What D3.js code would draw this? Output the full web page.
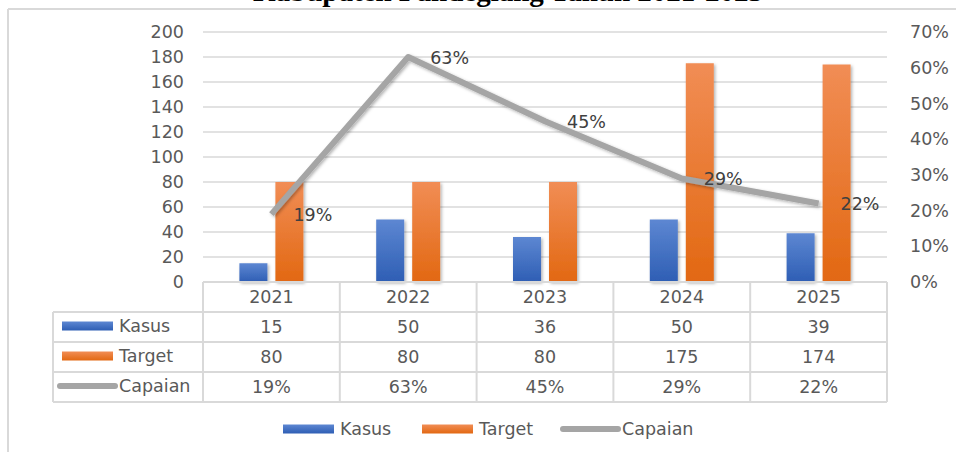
<!DOCTYPE html>
<html>
<head>
<meta charset="utf-8">
<script src="https://cdn.jsdelivr.net/npm/d3@7"></script>
<style>
  body { margin: 0; background: #fff; }
  svg { display: block; }
  text { font-family: "DejaVu Sans", sans-serif; }
</style>
</head>
<body>
<div id="chart"></div>
<script>
// values
const years = ['2021', '2022', '2023', '2024', '2025'];
const kasus = [15, 50, 36, 50, 39];
const target = [80, 80, 80, 175, 174];
const capaian = [0.19, 0.63, 0.45, 0.29, 0.22];
const leftTicks = [0, 20, 40, 60, 80, 100, 120, 140, 160, 180, 200];
const rightTicks = [0, 0.1, 0.2, 0.3, 0.4, 0.5, 0.6, 0.7];
const seriesNames = ['Kasus', 'Target', 'Capaian'];

const width = 956, height = 452;
const fs = 17.5;
const svg = d3.select('#chart').append('svg').attr('width', width).attr('height', height);

const defs = svg.append('defs');
const grad = (id, top, bottom) => {
  const g = defs.append('linearGradient').attr('id', id).attr('x1', 0).attr('y1', 0).attr('x2', 0).attr('y2', 1);
  g.append('stop').attr('offset', '0%').attr('stop-color', top);
  g.append('stop').attr('offset', '100%').attr('stop-color', bottom);
};
grad('gBlue', '#5d87d2', '#2e5eb4');
grad('gOrange', '#f18d55', '#e26812');
const sh = defs.append('filter').attr('id', 'shadow').attr('x', '-20%').attr('y', '-20%').attr('width', '140%').attr('height', '140%');
sh.append('feDropShadow').attr('dx', 1.5).attr('dy', 1.5).attr('stdDeviation', 1.5).attr('flood-color', '#000').attr('flood-opacity', 0.3);

const colors = { Kasus: 'url(#gBlue)', Target: 'url(#gOrange)' };
const textCol = '#595959', gridCol = '#d9d9d9';

// outer chart border (top and left visible)
svg.append('line').attr('x1', 8).attr('x2', width).attr('y1', 9).attr('y2', 9).attr('stroke', gridCol).attr('stroke-width', 2);
svg.append('line').attr('x1', 8).attr('x2', 8).attr('y1', 9).attr('y2', height).attr('stroke', gridCol).attr('stroke-width', 2);

// title, mostly clipped off the top like in the source
svg.append('text').attr('x', 508).attr('y', 1).attr('text-anchor', 'middle')
  .style('font-family', '"Liberation Serif", serif').attr('font-weight', 'bold').attr('font-size', 29)
  .attr('fill', '#000').text('Kabupaten Pandeglang Tahun 2021-2025');

const x = d3.scaleBand().domain(years).range([203, 887]);
const xs = d3.scaleBand().domain(['Kasus', 'Target']).range([0, 64]).paddingInner(0.222);
const y = d3.scaleLinear().domain([0, 200]).range([282, 32]);
const y2 = d3.scaleLinear().domain([0, 0.7]).range([282, 32]);

// gridlines
svg.append('g').selectAll('line').data(leftTicks.slice(1)).join('line')
  .attr('x1', 203).attr('x2', 887).attr('y1', d => y(d)).attr('y2', d => y(d))
  .attr('stroke', gridCol).attr('stroke-width', 1.5);

// left axis
const yAxis = svg.append('g').attr('transform', 'translate(184,0)')
  .call(d3.axisLeft(y).tickValues(leftTicks).tickSize(0).tickPadding(0));
yAxis.select('.domain').remove();
yAxis.selectAll('text').attr('font-size', fs).attr('fill', textCol).style('font-family', '"DejaVu Sans", sans-serif');

// right axis
const y2Axis = svg.append('g').attr('transform', 'translate(910,0)')
  .call(d3.axisRight(y2).tickValues(rightTicks).tickFormat(d3.format('.0%')).tickSize(0).tickPadding(0));
y2Axis.select('.domain').remove();
y2Axis.selectAll('text').attr('font-size', fs).attr('fill', textCol).style('font-family', '"DejaVu Sans", sans-serif');

// bars
const rows = years.map((yr, i) => ({ year: yr, Kasus: kasus[i], Target: target[i] }));
svg.append('g').selectAll('g').data(rows).join('g')
  .attr('transform', d => `translate(${x(d.year) + x.bandwidth() / 2 - 32},0)`)
  .selectAll('rect').data(d => ['Kasus', 'Target'].map(k => ({ key: k, value: d[k] }))).join('rect')
  .attr('x', d => xs(d.key)).attr('width', xs.bandwidth())
  .attr('y', d => y(d.value)).attr('height', d => y(0) - y(d.value))
  .attr('fill', d => colors[d.key]).attr('filter', 'url(#shadow)');

// capaian line
const pts = years.map((yr, i) => ({ year: yr, v: capaian[i] }));
const line = d3.line().x(d => x(d.year) + x.bandwidth() / 2).y(d => y2(d.v));
svg.append('path').datum(pts).attr('d', line).attr('fill', 'none')
  .attr('stroke', '#a5a5a5').attr('stroke-width', 6).attr('stroke-linejoin', 'round')
  .attr('filter', 'url(#shadow)');
svg.append('g').selectAll('text').data(pts).join('text')
  .attr('x', d => x(d.year) + x.bandwidth() / 2 + 22).attr('y', d => y2(d.v) + 7)
  .attr('font-size', fs).attr('fill', '#404040').text(d => d3.format('.0%')(d.v));

// data table
const rowTop = [282, 312, 342, 372, 402];
const tb = svg.append('g');
tb.selectAll('line.h').data(rowTop).join('line')
  .attr('x1', (d, i) => i < 1 ? 203 : 53).attr('x2', 887)
  .attr('y1', d => d).attr('y2', d => d).attr('stroke', gridCol).attr('stroke-width', 2);
const colEdges = x.domain().map(d => x(d)).concat([887]);
tb.selectAll('line.v').data(colEdges).join('line')
  .attr('x1', d => d).attr('x2', d => d).attr('y1', 282).attr('y2', 402)
  .attr('stroke', gridCol).attr('stroke-width', 2);
tb.append('line').attr('x1', 53).attr('x2', 53).attr('y1', 312).attr('y2', 402)
  .attr('stroke', gridCol).attr('stroke-width', 2);

tb.selectAll('text.yr').data(years).join('text')
  .attr('x', d => x(d) + x.bandwidth() / 2).attr('y', 303).attr('text-anchor', 'middle')
  .attr('font-size', fs).attr('fill', textCol).text(d => d);

const tableVals = [kasus.map(String), target.map(String), capaian.map(d3.format('.0%'))];
tableVals.forEach((vals, r) => {
  tb.append('g').selectAll('text').data(vals).join('text')
    .attr('x', (d, i) => x(years[i]) + x.bandwidth() / 2).attr('y', rowTop[r + 1] + 21)
    .attr('text-anchor', 'middle').attr('font-size', fs).attr('fill', textCol).text(d => d);
});

const legendKey = (g, name, kx, cy) => {
  if (name === 'Capaian') {
    g.append('line').attr('x1', kx - 2).attr('x2', kx + 53).attr('y1', cy).attr('y2', cy)
      .attr('stroke', '#a5a5a5').attr('stroke-width', 6).attr('stroke-linecap', 'round');
  } else {
    g.append('rect').attr('x', kx).attr('y', cy - 4.5).attr('width', 51).attr('height', 9)
      .attr('fill', colors[name]);
  }
  g.append('text').attr('x', kx + 57).attr('y', cy + 6).attr('font-size', fs)
    .attr('fill', textCol).text(name);
};

seriesNames.forEach((s, i) => legendKey(tb, s, 62, rowTop[i + 1] + 14));

// bottom legend
const lg = svg.append('g');
const legendX = [283, 422, 565];
seriesNames.forEach((s, i) => legendKey(lg, s, legendX[i], 429));
</script>
</body>
</html>
